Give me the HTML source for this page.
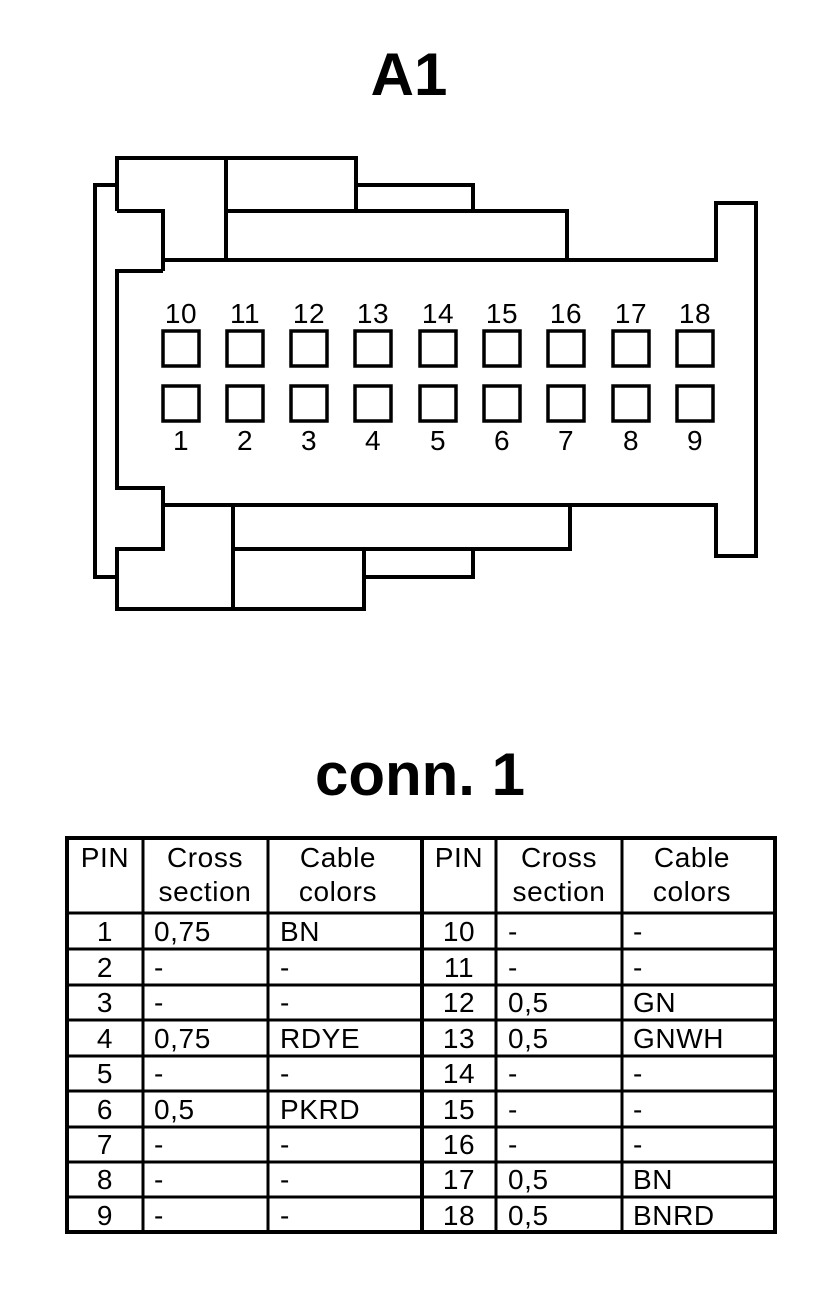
<!DOCTYPE html>
<html><head><meta charset="utf-8"><style>
html,body{margin:0;padding:0;background:#fff;}
svg{display:block;}
text{font-family:"Liberation Sans",Arial,sans-serif;fill:#000;}
</style></head><body>
<svg width="832" height="1294" viewBox="0 0 832 1294" xmlns="http://www.w3.org/2000/svg">
<text x="409" y="95" font-size="60" font-weight="bold" text-anchor="middle">A1</text>
<g fill="none" stroke="#000" stroke-width="4" stroke-linejoin="miter">
<polyline points="117,185 95,185 95,577 117,577"/>
<polyline points="117,211 117,158 356,158 356,211"/>
<polyline points="117,211 163,211 163,260 568,260"/>
<polyline points="568,260 716,260 716,203 756,203 756,556 716,556 716,505 163,505"/>
<polyline points="163,505 163,549 117,549 117,609 364,609 364,549"/>
<polyline points="163,271 117,271 117,488 163,488 163,505"/>
<line x1="163" y1="260" x2="163" y2="271"/>
<line x1="226" y1="158" x2="226" y2="260"/>
<polyline points="226,211 567,211 567,260"/>
<polyline points="356,185 473,185 473,211"/>
<line x1="233" y1="505" x2="233" y2="609"/>
<polyline points="233,549 570,549 570,505"/>
<polyline points="364,577 473,577 473,549"/>
</g>
<g fill="none" stroke="#000" stroke-width="3.5">
<rect x="163" y="331" width="36" height="35"/><rect x="227" y="331" width="36" height="35"/><rect x="291" y="331" width="36" height="35"/><rect x="355" y="331" width="36" height="35"/><rect x="420" y="331" width="36" height="35"/><rect x="484" y="331" width="36" height="35"/><rect x="548" y="331" width="36" height="35"/><rect x="613" y="331" width="36" height="35"/><rect x="677" y="331" width="36" height="35"/>
<rect x="163" y="386" width="36" height="35"/><rect x="227" y="386" width="36" height="35"/><rect x="291" y="386" width="36" height="35"/><rect x="355" y="386" width="36" height="35"/><rect x="420" y="386" width="36" height="35"/><rect x="484" y="386" width="36" height="35"/><rect x="548" y="386" width="36" height="35"/><rect x="613" y="386" width="36" height="35"/><rect x="677" y="386" width="36" height="35"/>
</g>
<g font-size="28" text-anchor="middle" letter-spacing="0.5">
<text x="181" y="323">10</text><text x="245" y="323">11</text><text x="309" y="323">12</text><text x="373" y="323">13</text><text x="438" y="323">14</text><text x="502" y="323">15</text><text x="566" y="323">16</text><text x="631" y="323">17</text><text x="695" y="323">18</text>
<text x="181" y="450">1</text><text x="245" y="450">2</text><text x="309" y="450">3</text><text x="373" y="450">4</text><text x="438" y="450">5</text><text x="502" y="450">6</text><text x="566" y="450">7</text><text x="631" y="450">8</text><text x="695" y="450">9</text>
</g>
<text x="420" y="795" font-size="60" font-weight="bold" text-anchor="middle">conn. 1</text>
<g fill="none" stroke="#000">
<rect x="67" y="838" width="708" height="394" stroke-width="4"/>
<line x1="422" y1="838" x2="422" y2="1232" stroke-width="4"/>
<g stroke-width="3">
<line x1="143" y1="838" x2="143" y2="1232"/><line x1="268" y1="838" x2="268" y2="1232"/>
<line x1="496" y1="838" x2="496" y2="1232"/><line x1="622" y1="838" x2="622" y2="1232"/>
<line x1="67" y1="913" x2="775" y2="913"/>
<line x1="67" y1="949" x2="775" y2="949"/><line x1="67" y1="985" x2="775" y2="985"/>
<line x1="67" y1="1020" x2="775" y2="1020"/><line x1="67" y1="1056" x2="775" y2="1056"/>
<line x1="67" y1="1091" x2="775" y2="1091"/><line x1="67" y1="1127" x2="775" y2="1127"/>
<line x1="67" y1="1162" x2="775" y2="1162"/><line x1="67" y1="1197" x2="775" y2="1197"/>
</g>
</g>
<g font-size="28" letter-spacing="0.6">
<text x="105" y="867" text-anchor="middle">PIN</text>
<text x="205" y="867" text-anchor="middle">Cross</text><text x="205" y="901" text-anchor="middle">section</text>
<text x="338" y="867" text-anchor="middle">Cable</text><text x="338" y="901" text-anchor="middle">colors</text>
<text x="459" y="867" text-anchor="middle">PIN</text>
<text x="559" y="867" text-anchor="middle">Cross</text><text x="559" y="901" text-anchor="middle">section</text>
<text x="692" y="867" text-anchor="middle">Cable</text><text x="692" y="901" text-anchor="middle">colors</text>
</g>
<g font-size="28" letter-spacing="0.6">
<g text-anchor="middle">
<text x="105" y="941">1</text><text x="105" y="977">2</text><text x="105" y="1012">3</text><text x="105" y="1048">4</text><text x="105" y="1083">5</text><text x="105" y="1119">6</text><text x="105" y="1154">7</text><text x="105" y="1189">8</text><text x="105" y="1225">9</text>
<text x="459" y="941">10</text><text x="459" y="977">11</text><text x="459" y="1012">12</text><text x="459" y="1048">13</text><text x="459" y="1083">14</text><text x="459" y="1119">15</text><text x="459" y="1154">16</text><text x="459" y="1189">17</text><text x="459" y="1225">18</text>
</g>
<text x="154" y="941">0,75</text><text x="154" y="977">-</text><text x="154" y="1012">-</text><text x="154" y="1048">0,75</text><text x="154" y="1083">-</text><text x="154" y="1119">0,5</text><text x="154" y="1154">-</text><text x="154" y="1189">-</text><text x="154" y="1225">-</text>
<text x="280" y="941">BN</text><text x="280" y="977">-</text><text x="280" y="1012">-</text><text x="280" y="1048">RDYE</text><text x="280" y="1083">-</text><text x="280" y="1119">PKRD</text><text x="280" y="1154">-</text><text x="280" y="1189">-</text><text x="280" y="1225">-</text>
<text x="508" y="941">-</text><text x="508" y="977">-</text><text x="508" y="1012">0,5</text><text x="508" y="1048">0,5</text><text x="508" y="1083">-</text><text x="508" y="1119">-</text><text x="508" y="1154">-</text><text x="508" y="1189">0,5</text><text x="508" y="1225">0,5</text>
<text x="633" y="941">-</text><text x="633" y="977">-</text><text x="633" y="1012">GN</text><text x="633" y="1048">GNWH</text><text x="633" y="1083">-</text><text x="633" y="1119">-</text><text x="633" y="1154">-</text><text x="633" y="1189">BN</text><text x="633" y="1225">BNRD</text>
</g>
</svg>
</body></html>
